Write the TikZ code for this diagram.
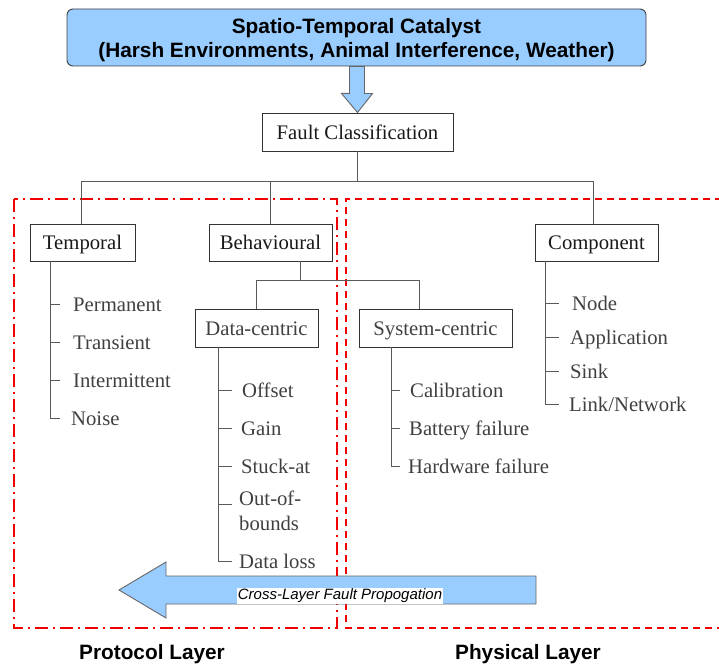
\documentclass[tikz,border=0pt]{standalone}
\usepackage{fontspec}
\setmainfont{Liberation Serif}
\newfontfamily\hsans{Liberation Sans}
\definecolor{skyfill}{RGB}{153,204,255}
\definecolor{layerred}{RGB}{240,0,0}
\begin{document}
\begin{tikzpicture}[x=1pt,y=-1pt,
  catbox/.style={draw=black!75, fill=skyfill, rounded corners=6pt, line width=0.9pt, inner sep=0pt},
  cattext/.style={inner sep=0pt, align=center, font=\hsans\bfseries\fontsize{20.8pt}{24pt}\selectfont},
  classbox/.style={draw=black!80, line width=0.9pt, inner sep=0pt, text=black!90,
    font=\fontsize{20.7pt}{24pt}\selectfont, text height=14pt, text depth=0pt},
  item/.style={anchor=west, inner sep=0pt, text=black!75,
    font=\fontsize{20.7pt}{25pt}\selectfont, text height=14pt, text depth=0pt},
  multiitem/.style={anchor=west, inner sep=0pt, text=black!75, align=left,
    font=\fontsize{20.7pt}{25pt}\selectfont},
  tree/.style={draw=black!65, line width=1pt},
  blockarrow/.style={draw=black!60, fill=skyfill, line width=0.9pt, line join=miter},
  protocol/.style={draw=layerred, line width=1.8pt, dash pattern=on 13pt off 5pt on 2pt off 5pt},
  physical/.style={draw=layerred, line width=1.8pt, dash pattern=on 7pt off 5pt},
  layerlabel/.style={inner sep=0pt, font=\hsans\bfseries\fontsize{20.8pt}{24pt}\selectfont},
  flowlabel/.style={fill=white, inner sep=1pt, font=\hsans\itshape\fontsize{15pt}{18pt}\selectfont}
]
\useasboundingbox (0,0) rectangle (719,666);

% layer frames
\draw[protocol] (14,199) rectangle (337,628);
\draw[physical] (722,199) -- (346,199) -- (346,628) -- (722,628);

% top catalyst box and the downward arrow
\node[catbox, minimum width=579pt, minimum height=57pt] (cat) at (356.5,37.5) {};
\node[cattext] (cattitle) at (356.5,40)
  {Spatio-Temporal Catalyst\\(Harsh Environments, Animal Interference, Weather)};
\node[classbox, minimum width=191pt, minimum height=38pt] (fault) at (357.5,132) {Fault Classification};
\draw[blockarrow] (cat.south) ++(-7,0) -- ++(0,27) -- ++(-8,0) -- (fault.north) -- ++(15,-19)
  -- ++(-8,0) -- ++(0,-27) -- cycle;

% classification boxes
\node[classbox, minimum width=105pt, minimum height=37pt] (temporal) at (82.5,242.5) {Temporal};
\node[classbox, minimum width=123pt, minimum height=37pt] (behav) at (270.5,242.5) {Behavioural};
\node[classbox, minimum width=123pt, minimum height=37pt] (component) at (596.5,242.5) {Component};
\node[classbox, minimum width=123pt, minimum height=38pt, text=black!75] (data) at (256.5,328) {Data-centric};
\node[classbox, minimum width=153pt, minimum height=38pt, text=black!75] (sys) at (435.5,328) {System-centric};

% tree connectors
\coordinate (j1) at ([yshift=-30pt]fault.south);
\draw[tree] (fault.south) -- (j1);
\draw[tree] ([xshift=-1.5pt]temporal.north) |- (j1) -| ([xshift=-3.5pt]component.north);
\draw[tree] (behav.north) -- (behav.north |- j1);
\coordinate (j2) at ([xshift=29.5pt,yshift=-19pt]behav.south);
\draw[tree] ([xshift=29.5pt]behav.south) -- (j2);
\draw[tree] (data.north) |- (j2) -| ([xshift=-16.5pt]sys.north);

% temporal items
\node[item] (perm) at (73,304) {Permanent};
\node[item] (trans) at (73,342) {Transient};
\node[item] (inter) at (73,380) {Intermittent};
\node[item] (noise) at (71,418) {Noise};
\coordinate (tt) at ([xshift=21pt]temporal.south west);
\draw[tree] (tt) |- ([xshift=-11pt]noise.west);
\foreach \n in {perm,trans,inter} \draw[tree] (tt |- \n.west) -- ++(9,0);

% data-centric items
\node[item] (offset) at (242,390) {Offset};
\node[item] (gain) at (241,428) {Gain};
\node[item] (stuck) at (241,466) {Stuck-at};
\node[multiitem] (oob) at (239,511) {Out-of-\\bounds};
\node[item] (loss) at (239,561) {Data loss};
\coordinate (dt) at ([xshift=24pt]data.south west);
\draw[tree] (dt) |- ([xshift=-7pt]loss.west);
\foreach \n in {offset,gain,stuck} \draw[tree] (dt |- \n.west) -- ++(13,0);
\draw[tree] (dt |- 0,504) -- ++(13,0);

% system-centric items
\node[item] (calib) at (410,390) {Calibration};
\node[item] (batt) at (409,428) {Battery failure};
\node[item] (hw) at (408,466) {Hardware failure};
\coordinate (st) at ([xshift=33pt]sys.south west);
\draw[tree] (st) |- ([xshift=-8pt]hw.west);
\foreach \n in {calib,batt} \draw[tree] (st |- \n.west) -- ++(8,0);

% component items
\node[item] (nodeitem) at (572,303) {Node};
\node[item] (app) at (570,337) {Application};
\node[item] (sink) at (570,371) {Sink};
\node[item] (link) at (569,404) {Link/Network};
\coordinate (ct) at ([xshift=11pt]component.south west);
\draw[tree] (ct) |- ([xshift=-10pt]link.west);
\foreach \n in {nodeitem,app,sink} \draw[tree] (ct |- \n.west) -- ++(13,0);

% cross-layer propagation arrow
\draw[blockarrow] (536,576) -- (166,576) -- (166,562) -- (119,590) -- (166,618)
  -- (166,604) -- (536,604) -- cycle;
\node[flowlabel] (flow) at (340,596) {Cross-Layer Fault Propogation};

% layer names
\node[layerlabel] (protlabel) at (152,654) {Protocol Layer};
\node[layerlabel] (physlabel) at (528,654) {Physical Layer};
\end{tikzpicture}
\end{document}
